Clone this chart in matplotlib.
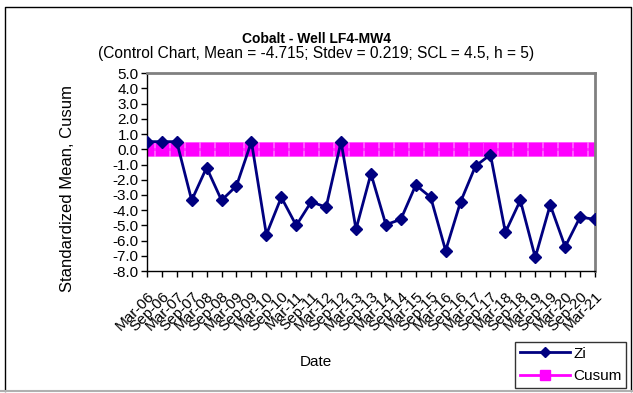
import matplotlib.pyplot as plt
from matplotlib.lines import Line2D

plt.rcParams['font.family'] = ['Liberation Sans', 'DejaVu Sans']

# sampling dates, twice a year
dates = ['Mar-06', 'Sep-06', 'Mar-07', 'Sep-07', 'Mar-08', 'Sep-08', 'Mar-09', 'Sep-09',
         'Mar-10', 'Sep-10', 'Mar-11', 'Sep-11', 'Mar-12', 'Sep-12', 'Mar-13', 'Sep-13',
         'Mar-14', 'Sep-14', 'Mar-15', 'Sep-15', 'Mar-16', 'Sep-16', 'Mar-17', 'Sep-17',
         'Mar-18', 'Sep-18', 'Mar-19', 'Sep-19', 'Mar-20', 'Sep-20', 'Mar-21']

zi = [0.5, 0.5, 0.5, -3.35, -1.2, -3.35, -2.4, 0.5,
      -5.6, -3.15, -5.0, -3.45, -3.8, 0.5, -5.25, -1.6,
      -4.95, -4.6, -2.35, -3.15, -6.65, -3.45, -1.1, -0.35,
      -5.45, -3.35, -7.1, -3.65, -6.4, -4.45, -4.6]

cusum = [0.0] * 31

yticks = [5.0, 4.0, 3.0, 2.0, 1.0, 0.0, -1.0, -2.0, -3.0, -4.0, -5.0, -6.0, -7.0, -8.0]

fig = plt.figure(figsize=(6.33, 3.93), dpi=100)
ax = fig.add_axes([0.232, 0.310, 0.708, 0.504])

x = list(range(len(dates)))
ax.plot(x, cusum, color='#FF00FF', lw=2, marker='s', markersize=9.6,
        markeredgecolor='#FF40FF', markeredgewidth=0.4, zorder=2)
ax.plot(x, zi, color='#000080', lw=2, marker='D', markersize=6.2, zorder=3)

ax.set_xlim(0, len(dates) - 1)
ax.set_ylim(-8, 5)
ax.set_yticks(yticks)
ax.set_yticklabels(['%.1f' % v for v in yticks], fontsize=11)
ax.set_xticks(x)
ax.set_xticklabels(dates, rotation=45, ha='right', rotation_mode='anchor', fontsize=11)
ax.tick_params(direction='out', length=4, width=1)
ax.tick_params(axis='y', pad=2)
ax.tick_params(axis='x', pad=9)

for s in ['top', 'right']:
    ax.spines[s].set_color('#808080')
    ax.spines[s].set_linewidth(2)
for s in ['left', 'bottom']:
    ax.spines[s].set_color('black')
    ax.spines[s].set_linewidth(1)

fig.text(67 / 633, 1 - 188 / 393, 'Standardized Mean, Cusum', rotation=90,
         ha='center', va='center', fontsize=12)
fig.text(316 / 633, 1 - 362 / 393, 'Date', ha='center', va='center', fontsize=11)

fig.text(0.5, 0.902, 'Cobalt - Well LF4-MW4', ha='center', va='center',
         fontsize=10, fontweight='bold')
fig.text(0.5, 0.863, '(Control Chart, Mean = -4.715; Stdev = 0.219; SCL = 4.5, h = 5)',
         ha='center', va='center', fontsize=11.2)

# outer chart border: black left/top/right, grey bottom
x0, x1 = 5 / 633, 631 / 633
y0, y1 = 2 / 393, 386 / 393
fig.add_artist(Line2D([x0, x0, x1, x1], [y0, y1, y1, y0], transform=fig.transFigure,
                      color='black', lw=1))
fig.add_artist(Line2D([0, 1], [y0, y0], transform=fig.transFigure,
                      color='#b0b0b0', lw=1.5))

# legend handles with smaller markers than the plotted ones
h_zi = Line2D([], [], color='#000080', lw=2, marker='D', markersize=5)
h_cu = Line2D([], [], color='#FF00FF', lw=2, marker='s', markersize=7)
leg = fig.legend([h_zi, h_cu], ['Zi', 'Cusum'], loc='upper left',
                 bbox_to_anchor=(515 / 633, 1 - 342 / 393), borderaxespad=0,
                 frameon=True, fancybox=False, edgecolor='black', fontsize=11,
                 handlelength=3.3, borderpad=0.3, labelspacing=0.55, handletextpad=0.2)
leg.get_frame().set_linewidth(1)

plt.savefig('out.png', dpi=100)
